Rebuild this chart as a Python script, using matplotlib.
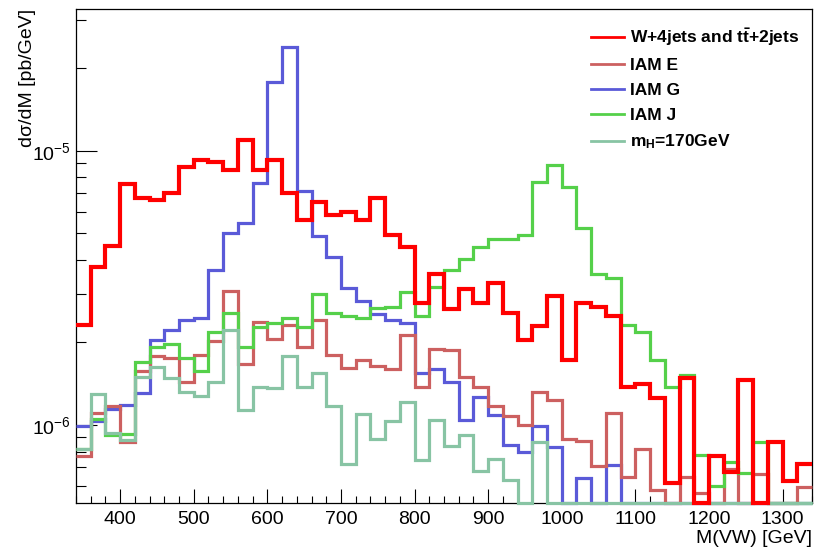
import numpy as np
import matplotlib
matplotlib.use("Agg")
import matplotlib.pyplot as plt
from matplotlib.ticker import FixedLocator, NullFormatter

plt.rcParams['font.family'] = ['Liberation Sans', 'DejaVu Sans']
plt.rcParams['mathtext.fontset'] = 'custom'
plt.rcParams['mathtext.rm'] = 'Liberation Sans'
plt.rcParams['mathtext.it'] = 'Liberation Sans:italic'
plt.rcParams['mathtext.bf'] = 'Liberation Sans:bold'

# 50 bins of 20 GeV, 340 -> 1340 GeV
edges = np.arange(340, 1341, 20)

# dsigma/dM [pb/GeV], 0 = below the plotted range
bkg = [2.32e-6, 3.78e-6, 4.5e-6, 7.56e-6, 6.76e-6, 6.62e-6, 7.05e-6, 8.76e-6, 9.27e-6, 9.14e-6,
       8.52e-6, 1.097e-5, 8.52e-6, 9.3e-6, 7.05e-6, 5.6e-6, 6.53e-6, 5.84e-6, 5.97e-6, 5.6e-6,
       6.76e-6, 4.94e-6, 4.45e-6, 2.79e-6, 3.55e-6, 2.64e-6, 3.13e-6, 2.79e-6, 3.31e-6, 2.57e-6,
       2.05e-6, 2.3e-6, 2.95e-6, 1.73e-6, 2.78e-6, 2.69e-6, 2.5e-6, 1.38e-6, 1.41e-6, 1.25e-6,
       6.16e-7, 1.48e-6, 0, 7.72e-7, 6.75e-7, 1.46e-6, 0, 8.64e-7, 6.26e-7, 7.21e-7]
iam_e = [7.72e-7, 1.11e-6, 1.17e-6, 8.67e-7, 1.57e-6, 1.78e-6, 1.75e-6, 1.43e-6, 1.8e-6, 2.03e-6,
         3.09e-6, 1.67e-6, 2.38e-6, 2.06e-6, 2.32e-6, 1.93e-6, 2.42e-6, 1.8e-6, 1.61e-6, 1.73e-6,
         1.64e-6, 1.6e-6, 2.13e-6, 1.38e-6, 1.9e-6, 1.87e-6, 1.49e-6, 1.37e-6, 1.17e-6, 1.08e-6,
         1.0e-6, 1.32e-6, 1.23e-6, 8.88e-7, 8.77e-7, 7.09e-7, 1.11e-6, 6.44e-7, 8.17e-7, 5.8e-7,
         0, 6.44e-7, 5.65e-7, 0, 6.9e-7, 0, 6.6e-7, 0, 0, 5.95e-7]
iam_g = [9.9e-7, 1.03e-6, 1.14e-6, 1.18e-6, 1.31e-6, 2.05e-6, 2.22e-6, 2.42e-6, 2.45e-6, 3.68e-6,
         5.03e-6, 5.47e-6, 7.66e-6, 1.79e-5, 2.40e-5, 7.15e-6, 4.91e-6, 4.09e-6, 3.15e-6, 2.84e-6,
         2.54e-6, 2.42e-6, 2.35e-6, 1.55e-6, 1.6e-6, 1.44e-6, 1.04e-6, 1.27e-6, 1.09e-6, 8.46e-7,
         8.0e-7, 9.9e-7, 8.28e-7, 0, 6.38e-7, 0, 7.12e-7, 0, 0, 0,
         0, 0, 0, 0, 0, 0, 0, 0, 0, 0]
iam_j = [8.2e-7, 1.05e-6, 9.2e-7, 9.3e-7, 1.70e-6, 1.92e-6, 1.97e-6, 1.75e-6, 1.57e-6, 2.19e-6,
         2.57e-6, 1.93e-6, 2.28e-6, 2.35e-6, 2.45e-6, 2.27e-6, 3.0e-6, 2.57e-6, 2.49e-6, 2.45e-6,
         2.67e-6, 2.7e-6, 3.06e-6, 2.49e-6, 3.2e-6, 3.68e-6, 4.05e-6, 4.47e-6, 4.76e-6, 4.76e-6,
         4.94e-6, 7.69e-6, 8.89e-6, 7.41e-6, 5.22e-6, 3.57e-6, 3.45e-6, 2.32e-6, 2.19e-6, 1.72e-6,
         1.38e-6, 1.52e-6, 7.8e-7, 6.0e-7, 7.3e-7, 6.66e-7, 8.67e-7, 0, 0, 0]
higgs = [8.19e-7, 1.3e-6, 9.32e-7, 8.8e-7, 1.5e-6, 1.63e-6, 1.48e-6, 1.32e-6, 1.28e-6, 1.44e-6,
         2.22e-6, 1.13e-6, 1.38e-6, 1.36e-6, 1.79e-6, 1.37e-6, 1.55e-6, 1.17e-6, 7.21e-7, 1.1e-6,
         8.9e-7, 1.03e-6, 1.21e-6, 7.44e-7, 1.04e-6, 8.4e-7, 9.16e-7, 6.78e-7, 7.5e-7, 6.29e-7,
         0, 8.67e-7, 0, 0, 0, 0, 0, 0, 0, 0,
         0, 0, 0, 0, 0, 0, 0, 0, 0, 0]

labels = [r'W+4jets and t$\mathbf{\bar{t}}$+2jets', 'IAM E', 'IAM G', 'IAM J', r'm$_\mathbf{H}$=170GeV']
colors = ['#ff0000', '#cc6060', '#5a5ad8', '#55d04a', '#88c4a4']

ymin, ymax = 5.19e-7, 3.31e-5

fig = plt.figure(figsize=(8.14, 5.52), dpi=100)
ax = fig.add_axes([76/814, 1-503/552, 736/814, 494.5/552])
ax.set_yscale('log')
ax.set_xlim(340, 1340)
ax.set_ylim(ymin, ymax)

series = [bkg, iam_e, iam_g, iam_j, higgs]
order = [2, 1, 3, 4, 0]
for k in order:
    vals = np.maximum(np.array(series[k]), ymin)
    ax.stairs(vals, edges, baseline=None, color=colors[k],
              lw=3.0 if k == 0 else 2.3, zorder=3 + order.index(k), clip_on=False)

# legend
handles = [plt.Line2D([], [], color=c, lw=2) for c in colors]
leg = ax.legend(handles, labels, loc='upper right', bbox_to_anchor=(1.0, 0.988),
                frameon=False, handlelength=1.9, handletextpad=0.35,
                labelspacing=0.56, borderaxespad=0.3,
                prop={'weight': 'bold', 'size': 12.5})

# ticks ROOT-like
ax.xaxis.set_major_locator(FixedLocator(np.arange(400, 1301, 100)))
ax.xaxis.set_minor_locator(FixedLocator(np.arange(340, 1341, 20)))
ax.yaxis.set_major_locator(FixedLocator([1e-6, 1e-5]))
minors = [m * 10.0**e for e in (-7, -6, -5) for m in range(2, 10)]
ax.yaxis.set_minor_locator(FixedLocator(minors))
ax.yaxis.set_minor_formatter(NullFormatter())
ax.set_yticklabels(['10$^{-6}$', '10$^{-5}$'])
ax.tick_params(axis='x', which='major', direction='in', length=10, width=0.8,
               labelsize=14, pad=6, top=False)
ax.tick_params(axis='x', which='minor', direction='in', length=5, width=0.8, top=False)
ax.tick_params(axis='y', which='major', direction='in', length=15, width=0.8,
               labelsize=14, pad=4, right=False)
ax.tick_params(axis='y', which='minor', direction='in', length=7.5, width=0.8, right=False)
for s in ax.spines.values():
    s.set_linewidth(0.9)

ax.set_xlabel('M(VW) [GeV]', fontsize=14, loc='right')
ax.xaxis.set_label_coords(1.0, -0.055)
ax.set_ylabel('dσ/dM [pb/GeV]', fontsize=14, loc='top')
ax.yaxis.set_label_coords(-0.055, 1.0)

fig.savefig('out.png', dpi=100)
